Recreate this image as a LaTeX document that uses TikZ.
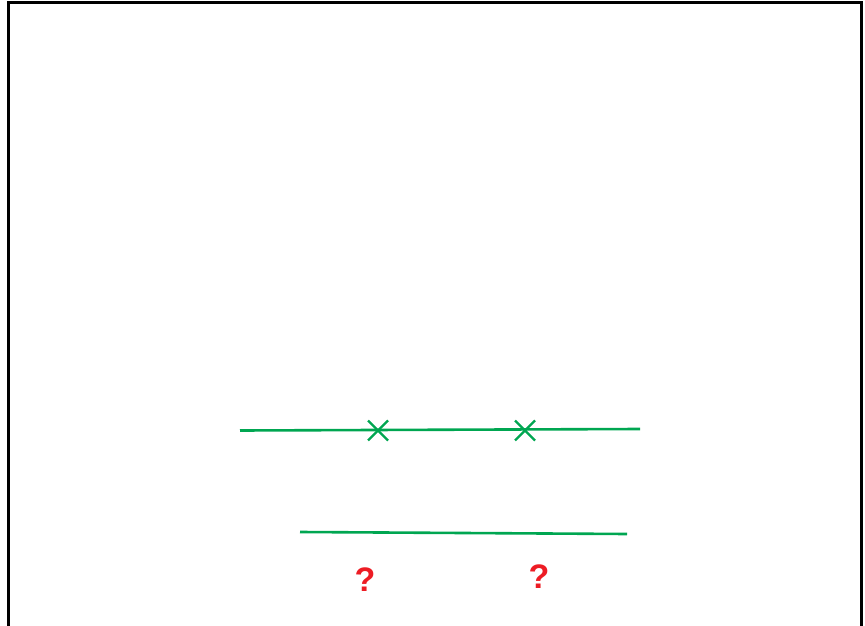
\documentclass[tikz,border=0pt]{standalone}
\usepackage{fontspec}
\setmainfont{Liberation Sans}
\definecolor{lgreen}{RGB}{0,166,81}
\definecolor{qred}{RGB}{237,28,36}
\begin{document}
\begin{tikzpicture}[x=1pt,y=-1pt,
  gline/.style={draw=lgreen,line width=2.6pt},
  xmark/.style={draw=lgreen,line width=2.4pt},
  qmark/.style={text=qred,font=\fontsize{34}{34}\selectfont\bfseries,inner sep=0pt}]
\useasboundingbox (0,0) rectangle (865,626);
\draw[line width=3pt] (8.5,640) -- (8.5,3) -- (861,3) -- (861,640);
\coordinate (a1) at (240,430.5);
\coordinate (a2) at (640,429);
\coordinate (b1) at (300,532);
\coordinate (b2) at (627,534);
\draw[gline] (a1) -- (a2);
\draw[gline] (b1) -- (b2);
\coordinate (x1) at (378,430.5);
\coordinate (x2) at (525,430.5);
\foreach \c in {x1,x2}{
  \draw[xmark] ([shift={(-10,-10)}]\c) -- ([shift={(10,10)}]\c);
  \draw[xmark] ([shift={(-10,10)}]\c) -- ([shift={(10,-10)}]\c);
}
\node[qmark] (q1) at (365,580) {?};
\node[qmark] (q2) at (539,577) {?};
\end{tikzpicture}
\end{document}
